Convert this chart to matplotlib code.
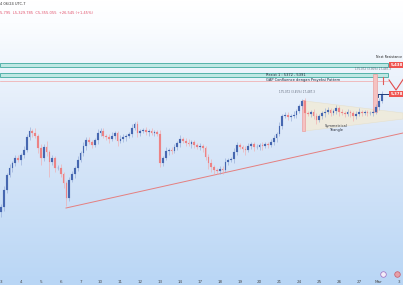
import numpy as np
import matplotlib
matplotlib.use("Agg")
import matplotlib.pyplot as plt
from matplotlib.colors import LinearSegmentedColormap
from matplotlib.patches import Rectangle, Polygon

# ---------------- data ----------------
first_open = 5142
closes = [
    5152, 5186, 5216, 5230, 5240, 5250, 5246, 5256, 5266, 5292,
    5304, 5300, 5294, 5270, 5250, 5272, 5262, 5242, 5250, 5230,
    5230, 5218, 5200, 5170, 5206, 5218, 5230, 5246, 5260, 5274,
    5286, 5282, 5276, 5286, 5300, 5304, 5294, 5292, 5288, 5294,
    5300, 5284, 5288, 5292, 5294, 5298, 5310, 5318, 5300, 5304,
    5306, 5302, 5304, 5300, 5302, 5298, 5240, 5250, 5264, 5266,
    5264, 5272, 5280, 5288, 5284, 5280, 5278, 5282, 5276, 5272,
    5274, 5270, 5252, 5240, 5232, 5226, 5224, 5228, 5226, 5242,
    5246, 5248, 5262, 5276, 5272, 5268, 5266, 5274, 5278, 5272,
    5272, 5276, 5274, 5278, 5276, 5282, 5290, 5298, 5314, 5334,
    5336, 5332, 5334, 5336, 5344, 5354, 5364, 5340, 5338, 5342,
    5334, 5326, 5334, 5340, 5342, 5346, 5340, 5344, 5350, 5342,
    5340, 5338, 5342, 5340, 5334, 5338, 5342, 5340, 5342, 5340,
    5340, 5342, 5352, 5364, 5378,
]
upper_wick = [
    6, 8, 5, 9, 4, 7, 6, 4, 9, 7,
    8, 5, 10, 4, 8, 6, 12, 5, 7, 4,
    6, 8, 4, 5, 7, 6, 4, 8, 5, 9,
    6, 7, 4, 5, 9, 6, 7, 4, 6, 8,
    5, 4, 8, 6, 4, 5, 8, 4, 6, 4,
    5, 7, 4, 6, 4, 5, 8, 5, 9, 4,
    6, 7, 5, 9, 4, 6, 8, 4, 5, 4,
    7, 5, 4, 6, 8, 5, 4, 7, 6, 9,
    5, 4, 8, 6, 4, 5, 7, 6, 4, 5,
    7, 4, 6, 4, 5, 7, 6, 4, 8, 5,
    7, 6, 4, 8, 5, 4, 4, 6, 4, 5,
    6, 7, 4, 5, 8, 6, 4, 5, 7, 4,
    6, 4, 7, 5, 4, 6, 8, 4, 5, 4,
    5, 4, 6, 6, 6,
]
lower_wick = [
    10, 8, 6, 4, 7, 5, 4, 9, 6, 4,
    5, 8, 4, 9, 14, 6, 7, 30, 5, 8,
    4, 6, 9, 16, 5, 4, 8, 6, 4, 5,
    7, 4, 6, 4, 8, 5, 4, 6, 7, 4,
    6, 9, 4, 5, 8, 4, 6, 4, 7, 5,
    4, 6, 8, 4, 5, 4, 8, 6, 4, 7,
    5, 4, 6, 8, 4, 5, 4, 7, 6, 4,
    5, 8, 6, 12, 10, 8, 6, 5, 7, 4,
    6, 4, 8, 5, 4, 6, 9, 4, 5, 7,
    4, 6, 8, 4, 5, 4, 6, 7, 4, 5,
    4, 6, 7, 4, 5, 4, 6, 8, 4, 5,
    6, 8, 4, 5, 7, 4, 6, 4, 5, 7,
    4, 5, 4, 7, 10, 6, 4, 5, 4, 6,
    4, 5, 4, 6, 4,
]
day_labels = ["3", "4", "5", "6", "7", "10", "11", "12", "13", "14", "17",
              "18", "19", "20", "21", "24", "25", "26", "27", "Mar", "3"]
bars_per_day = 7

next_resist_zone = (5432.6, 5439.4)
resist1_zone = (5411.4, 5420.6)
gap_line_price = 5404
price_label_values = [5436, 5378]
price_label_texts = ["5,438", "5,378"]
trend_start = (22.85, 5150)
trend_end = (141.5, 5300)
triangle_pts = [(107.0, 5364), (141.5, 5340), (141.5, 5328), (107.0, 5304)]

# ---------------- figure ----------------
W, H = 403, 303
fig = plt.figure(figsize=(W / 100, H / 100), dpi=100)
fig.patch.set_facecolor("white")
ax = fig.add_axes([0, 18 / H, 1, 285 / H])

XMIN, XMAX = -0.387, 141.5
YMIN, YMAX = 4996, 5566


def px(x, y):
    """reference pixel position -> data coordinates (for annotations)"""
    return (x - 1.1) / 2.84, 5566 - 2 * y


# background gradient
cmap = LinearSegmentedColormap.from_list(
    "bg", [(0, "#b9d6f5"), (0.55, "#dde9f9"), (0.92, "#fbfdff"), (1, "#ffffff")])
grad = np.linspace(0, 1, 256).reshape(-1, 1)
ax.imshow(grad, extent=(XMIN, XMAX, YMIN, YMAX), origin="lower",
          aspect="auto", cmap=cmap, zorder=0)

# zones
zone_right = px(388, 0)[0]
for lo, hi in (next_resist_zone, resist1_zone):
    ax.add_patch(Rectangle((XMIN, lo), zone_right - XMIN, hi - lo,
                           facecolor="#bfe7e3", edgecolor="#55b3aa",
                           lw=0.7, zorder=1))
ax.plot([XMIN, zone_right], [gap_line_price, gap_line_price],
        color="#f2a5a5", lw=0.5, zorder=1)

# symmetrical triangle
ax.add_patch(Polygon(triangle_pts, closed=True, facecolor="#efebdc",
                     edgecolor="#e6e0cc", lw=0.4, alpha=0.95, zorder=1))

# highlight bars
for (x0, y0), (x1, y1) in [(px(301.7, 131), px(305, 100)),
                           (px(372.7, 112), px(376.7, 74))]:
    ax.add_patch(Rectangle((x0, y0), x1 - x0, y1 - y0, facecolor="#f5c2c2",
                           edgecolor="#eba0a0", lw=0.5, zorder=1.5))

# trend line
ax.plot([trend_start[0], trend_end[0]], [trend_start[1], trend_end[1]],
        color="#e57f7f", lw=0.7, zorder=2)

# candles
closes_a = np.array(closes, dtype=float)
opens_a = np.concatenate([[first_open], closes_a[:-1]])
idx = np.arange(len(closes_a))
highs = np.maximum(opens_a, closes_a) + np.array(upper_wick)
lows = np.minimum(opens_a, closes_a) - np.array(lower_wick)
up = closes_a >= opens_a
up_col, dn_col = "#4667b0", "#ec8385"
colors = np.where(up, up_col, dn_col)
wick_cols = np.where(up, "#94abd8", "#f2abad")
ax.vlines(idx, lows, highs, colors=wick_cols, lw=0.45, zorder=3)
heights = closes_a - opens_a
ax.bar(idx, heights, bottom=opens_a, width=0.6, color=colors,
       edgecolor=colors, lw=0.1, zorder=4)

# last price marker & projection
mx0, my = px(378, 94)
mx1, _ = px(389, 94)
ax.plot([mx0, mx1], [my, my], color="#1f3c7a", lw=0.7, zorder=5)
ax.plot([mx0, mx0], [my, px(0, 97)[1]], color="#1f3c7a", lw=0.6, zorder=5)
gx, gy0 = px(382.7, 77)
ax.plot([gx, gx], [gy0, px(0, 83.5)[1]], color="#e05a5a", lw=0.8, zorder=5)
v = [px(389, 80), px(396, 90), px(404, 78)]
ax.plot([p[0] for p in v], [p[1] for p in v], color="#e24c4c", lw=0.8, zorder=5)

# price labels on the right
box_left = px(389, 0)[0]
for val, txt in zip(price_label_values, price_label_texts):
    ax.add_patch(Rectangle((box_left, val - 5.5), XMAX - box_left + 1, 11,
                           facecolor="#ef5350", edgecolor="none", zorder=6,
                           clip_on=False))
    ax.text(px(390.3, 0)[0], val, txt, fontsize=2.8, color="white",
            fontweight="bold", va="center", ha="left", zorder=7)

# annotation texts
tx, ty = px(402.5, 57.5)
ax.text(tx, ty, "Next Resistance", fontsize=2.3, color="#222222",
        va="center", ha="right", zorder=6)
tx, ty = px(266, 75)
ax.text(tx, ty, "Resist 1 : 5372 - 5391", fontsize=2.6, color="#1e2a3a",
        va="center", ha="left", zorder=6)
tx, ty = px(266, 79.5)
ax.text(tx, ty, "GAP Confluence dengan Proyeksi Pattern", fontsize=2.6,
        color="#1e2a3a", va="center", ha="left", zorder=6)
tx, ty = px(297, 92)
ax.text(tx, ty, "175.072 (3.45%) 17,487.3", fontsize=2.0, color="#606a7a",
        va="center", ha="center", zorder=6)
tx, ty = px(373, 68.5)
ax.text(tx, ty, "175.072 (3.30%) 17,487.3", fontsize=2.0, color="#606a7a",
        va="center", ha="center", zorder=6)
tx, ty = px(336, 125.5)
ax.text(tx, ty, "Symmetrical", fontsize=2.5, color="#2a2f3a",
        va="center", ha="center", zorder=6)
tx, ty = px(336, 129.5)
ax.text(tx, ty, "Triangle", fontsize=2.5, color="#2a2f3a",
        va="center", ha="center", zorder=6)

# header
fig.text(0.0, 1 - 4 / H, "4 06/24 UTC-7", fontsize=2.6, color="#333333",
         va="center", ha="left")
fig.text(0.0, 1 - 12.5 / H, "5,795  L5,329.785  C5,355.055  +26,545 (+1.45%)",
         fontsize=2.6, color="#e2506a", va="center", ha="left")

# bottom icons
for (cx, cy), fc, ec in [(px(383, 274), "#f3ecf8", "#9c6bc0"),
                         (px(397, 274), "#e6a0a8", "#c85a6a")]:
    ax.scatter([cx], [cy], s=16, facecolor=fc, edgecolor=ec, lw=0.5, zorder=6)

# axes
ax.set_xlim(XMIN, XMAX)
ax.set_ylim(YMIN, YMAX)
ax.set_xticks(np.arange(len(day_labels)) * bars_per_day)
ax.set_xticklabels(day_labels)
ax.tick_params(axis="x", length=0, pad=-3.8, labelsize=3, labelcolor="#4a4a4a")
ax.set_yticks([])
for s in ax.spines.values():
    s.set_visible(False)

fig.savefig("out.png", dpi=100, facecolor="white")
